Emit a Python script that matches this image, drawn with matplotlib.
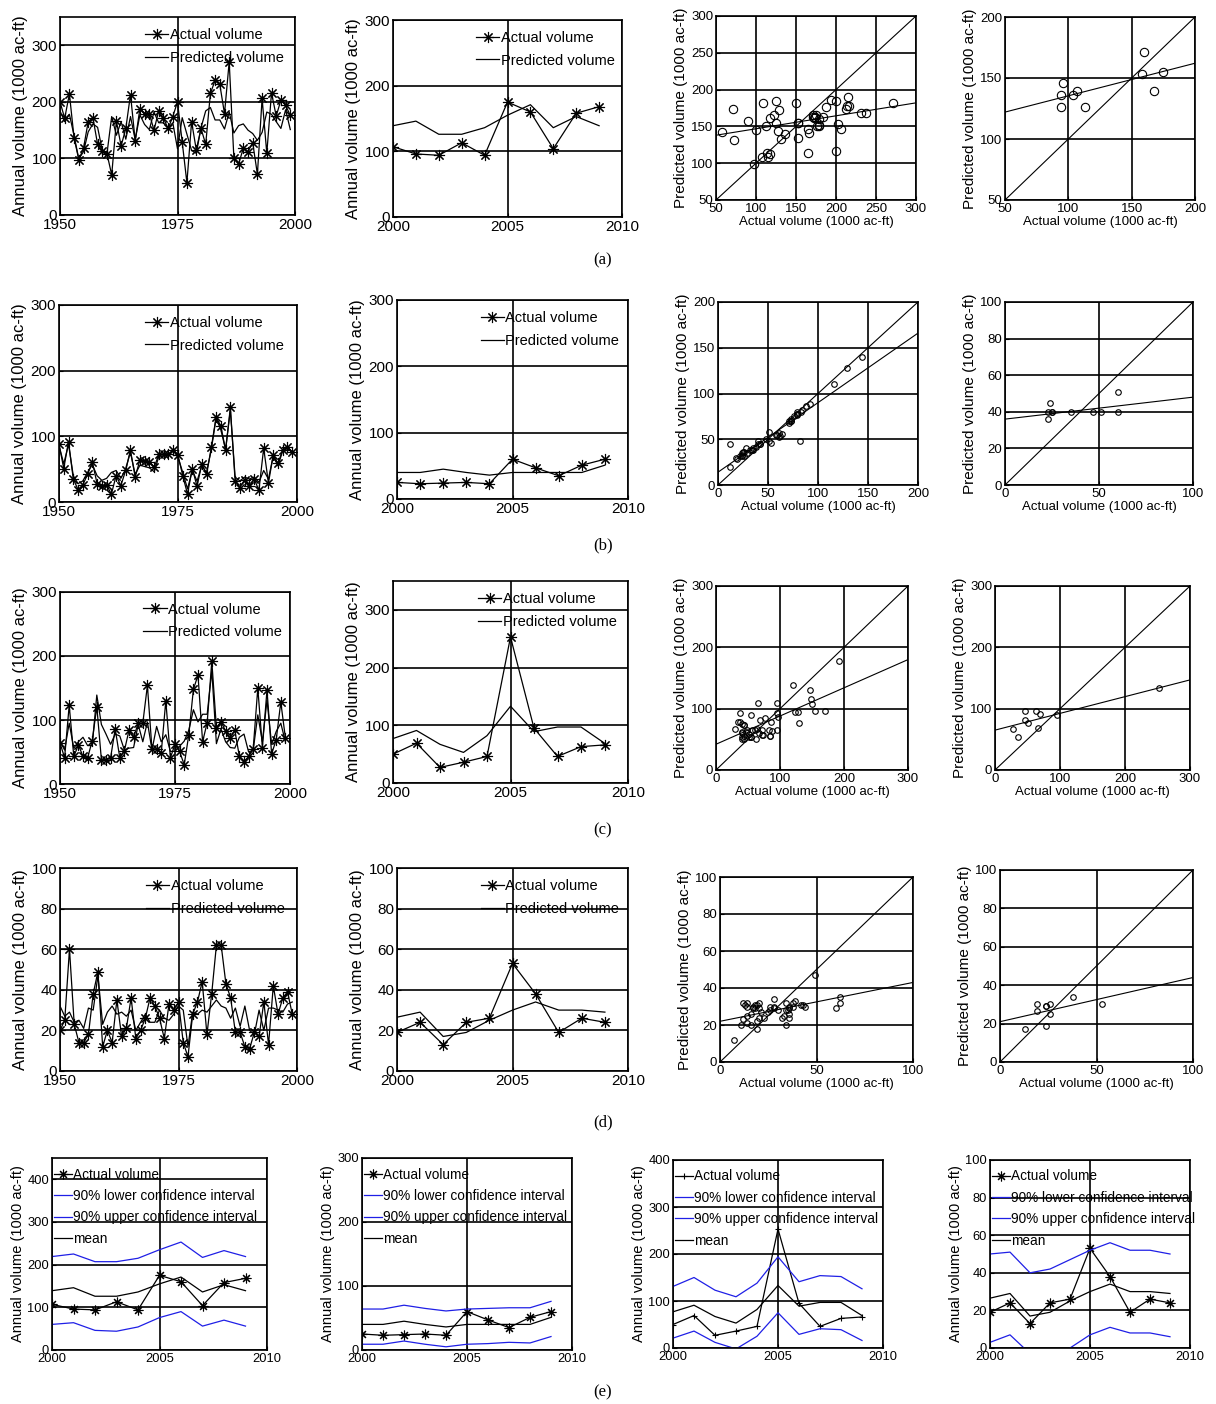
import numpy as np
import matplotlib
matplotlib.use("Agg")
import matplotlib.pyplot as plt
from matplotlib import font_manager

plt.rcParams['font.family'] = ['Liberation Sans', 'DejaVu Sans']

# --- data ---
years_hist = np.arange(1950, 2000)
years_rec = np.arange(2000, 2010)

a_hist_actual = [200, 171, 214, 136, 98, 118, 165, 172, 125, 114,
                 108, 71, 166, 122, 153, 213, 131, 188, 179, 179,
                 150, 184, 171, 153, 174, 200, 129, 57, 165, 115,
                 153, 125, 215, 238, 231, 179, 271, 100, 90, 118,
                 112, 128, 72, 206, 109, 216, 175, 203, 194, 176]
a_hist_pred = [184, 165, 178, 140, 99, 112, 147, 161, 155, 114,
               109, 174, 141, 165, 134, 174, 133, 177, 160, 151,
               182, 163, 163, 154, 163, 117, 172, 143, 114, 109,
               154, 184, 190, 168, 168, 152, 182, 145, 158, 161,
               150, 144, 132, 146, 182, 178, 165, 153, 186, 151]

b_hist_actual = [88, 51, 92, 35, 19, 26, 42, 61, 28, 24,
                 26, 12, 40, 25, 48, 79, 38, 64, 62, 61,
                 53, 73, 73, 73, 79, 71, 40, 12, 51, 24,
                 58, 42, 83, 129, 116, 79, 144, 32, 22, 34,
                 24, 35, 18, 82, 29, 71, 59, 79, 84, 76]
b_hist_pred = [86, 58, 88, 40, 28, 32, 45, 57, 40, 33,
               36, 45, 48, 36, 50, 76, 42, 56, 54, 52,
               46, 70, 70, 72, 78, 68, 45, 20, 48, 32,
               55, 45, 80, 128, 110, 80, 140, 38, 32, 38,
               35, 38, 30, 48, 35, 70, 55, 78, 82, 75]

c_hist_actual = [64, 41, 123, 43, 61, 43, 41, 67, 121, 38,
                 38, 41, 86, 41, 52, 84, 73, 95, 95, 154,
                 54, 55, 48, 130, 41, 62, 51, 30, 77, 148,
                 170, 66, 96, 192, 88, 97, 83, 72, 84, 43,
                 35, 43, 55, 150, 57, 147, 47, 69, 128, 72]
c_hist_pred = [67, 53, 95, 56, 66, 73, 60, 60, 139, 93,
               78, 62, 78, 75, 53, 56, 57, 93, 66, 97,
               53, 90, 66, 77, 51, 51, 59, 67, 84, 116,
               97, 109, 109, 177, 63, 86, 66, 57, 56, 73,
               78, 50, 53, 108, 66, 131, 62, 82, 95, 66]

d_hist_actual = [20, 25, 60, 23, 14, 14, 18, 38, 49, 12,
                 20, 14, 35, 17, 21, 36, 16, 20, 26, 36,
                 32, 26, 16, 33, 30, 34, 14, 7, 28, 34,
                 44, 18, 38, 62, 62, 43, 36, 19, 19, 12,
                 11, 19, 17, 34, 13, 42, 28, 36, 39, 28]
d_hist_pred = [32, 27, 29, 24, 25, 21, 31, 30, 47, 23,
               29, 32, 28, 29, 27, 30, 20, 24, 28, 24,
               24, 30, 26, 25, 28, 32, 30, 12, 29, 28,
               30, 29, 32, 35, 32, 31, 26, 31, 22, 32,
               20, 18, 30, 20, 31, 31, 30, 29, 33, 34]

a_rec_actual = [107, 96, 94, 113, 94, 175, 160, 104, 158, 168]
a_rec_pred = [139, 146, 126, 126, 136, 155, 171, 136, 153, 139]
b_rec_actual = [25, 23, 24, 25, 23, 60, 47, 35, 51, 60]
b_rec_pred = [40, 40, 45, 40, 36, 40, 40, 40, 40, 51]
c_rec_actual = [50, 69, 27, 36, 46, 253, 95, 46, 63, 66]
c_rec_pred = [77, 91, 67, 53, 82, 133, 89, 97, 97, 69]
d_rec_actual = [19, 24, 13, 24, 26, 53, 38, 19, 26, 24]
d_rec_pred = [26.5, 29, 17, 19, 25, 30, 34, 30, 30, 29]

a_lower = [60, 64, 46, 44, 54, 76, 90, 56, 70, 56]
a_upper = [219, 225, 207, 207, 215, 235, 253, 217, 233, 219]
b_lower = [9, 9, 14, 9, 5, 9, 10, 12, 11, 21]
b_upper = [64, 64, 70, 65, 61, 64, 65, 66, 66, 76]
c_lower = [21, 36, 12, -2, 25, 75, 29, 41, 39, 16]
c_upper = [131, 150, 123, 109, 138, 194, 141, 154, 152, 126]
d_lower = [3, 7, -3, -5, 0, 7, 11, 8, 8, 6]
d_upper = [50, 51, 40, 42, 47, 52, 56, 52, 52, 50]

# regression lines (intercept, slope)
fit_a_hist = (129.2, 0.176)
fit_a_rec = (108.7, 0.267)
fit_b_hist = (14, 0.76)
fit_b_rec = (36, 0.12)
fit_c_hist = (42, 0.46)
fit_c_rec = (65, 0.273)
fit_d_hist = (22, 0.21)
fit_d_rec = (21, 0.23)

# --- layout helpers ---
W, H = 1216, 1404
fig = plt.figure(figsize=(W / 100, H / 100), dpi=100)


def box(l, t, r, b):
    return [l / W, 1 - b / H, (r - l) / W, (b - t) / H]


ASTER = (8, 2, 0)


def style_axes(ax, tick_size, family=None):
    ax.grid(True, color='k', ls='-', lw=1.2)
    ax.set_axisbelow(True)
    for s in ax.spines.values():
        s.set_linewidth(1.2)
    ax.tick_params(direction='in', length=3, labelsize=tick_size, pad=2)
    if family is not None:
        for lab in ax.get_xticklabels() + ax.get_yticklabels():
            lab.set_family(family)


def series_panel(rect, years, actual, pred, xlim, xticks, ylim, yticks):
    ax = fig.add_axes(box(*rect))
    ax.plot(years, actual, '-', color='k', lw=0.9, marker=ASTER, ms=8,
            mew=0.8, label='Actual volume')
    ax.plot(years, pred, '-', color='k', lw=0.9, label='Predicted volume')
    ax.set_xlim(xlim)
    ax.set_ylim(ylim)
    ax.set_xticks(xticks)
    ax.set_yticks(yticks)
    style_axes(ax, 11)
    ax.set_ylabel('Annual volume (1000 ac-ft)', fontsize=12, labelpad=3)
    ax.legend(loc='upper left', bbox_to_anchor=(0.362, 0.945), frameon=False,
              fontsize=10.5, handlelength=1.6, handletextpad=0.1,
              borderpad=0, borderaxespad=0, labelspacing=0.6)
    return ax


def scatter_panel(rect, actual, pred, lim, xticks, yticks, fit, ms):
    ax = fig.add_axes(box(*rect))
    ax.plot(actual, pred, 'o', mfc='none', mec='k', ms=ms, mew=0.8)
    ax.plot(lim, lim, 'k-', lw=0.8)
    xs = np.array(lim, dtype=float)
    ax.plot(xs, fit[0] + fit[1] * xs, 'k-', lw=0.8)
    ax.set_xlim(lim)
    ax.set_ylim(lim)
    ax.set_xticks(xticks)
    ax.set_yticks(yticks)
    style_axes(ax, 9.5)
    ax.set_xlabel('Actual volume (1000 ac-ft)', fontsize=9.5, labelpad=1)
    ax.set_ylabel('Predicted volume (1000 ac-ft)', fontsize=11, labelpad=2)
    return ax


names = {f.name for f in font_manager.fontManager.ttflist}
if 'Liberation Sans Narrow' in names:
    e_family, e_size = 'Liberation Sans Narrow', 11.5
else:
    e_family, e_size = 'Liberation Sans', 9.8
e_spacing = max((21 - e_size * 1.389) / (e_size * 1.389), 0.2)


def ci_panel(rect, years, actual, lower, upper, mean, ylim, yticks, marker, ms):
    ax = fig.add_axes(box(*rect))
    ax.plot(years, actual, '-', color='k', lw=0.9, marker=marker, ms=ms,
            mew=0.8, label='Actual volume')
    ax.plot(years, lower, '-', color='#1f1fe6', lw=0.9,
            label='90% lower confidence interval')
    ax.plot(years, upper, '-', color='#1f1fe6', lw=0.9,
            label='90% upper confidence interval')
    ax.plot(years, mean, '-', color='k', lw=0.9, label='mean')
    ax.set_xlim(2000, 2010)
    ax.set_ylim(ylim)
    ax.set_xticks([2000, 2005, 2010])
    ax.set_yticks(yticks)
    style_axes(ax, e_size * 0.95, e_family)
    ax.set_ylabel('Annual volume (1000 ac-ft)', fontsize=10.5, labelpad=2)
    ax.legend(loc='upper left', bbox_to_anchor=(0.01, 0.95), frameon=False,
              prop={'family': e_family, 'size': e_size}, handlelength=1.3,
              handletextpad=0.1, borderpad=0, borderaxespad=0,
              labelspacing=e_spacing)
    return ax


# --- row (a) ---
series_panel((60, 17, 295, 215), years_hist, a_hist_actual, a_hist_pred,
             (1950, 2000), [1950, 1975, 2000], (0, 350), [0, 100, 200, 300])
series_panel((393, 20, 622, 217), years_rec, a_rec_actual, a_rec_pred,
             (2000, 2010), [2000, 2005, 2010], (0, 300), [0, 100, 200, 300])
scatter_panel((716, 16, 916, 200), a_hist_actual, a_hist_pred, (50, 300),
              [50, 100, 150, 200, 250, 300], [50, 100, 150, 200, 250, 300],
              fit_a_hist, 6)
scatter_panel((1005, 17, 1195, 200), a_rec_actual, a_rec_pred, (50, 200),
              [50, 100, 150, 200], [50, 100, 150, 200], fit_a_rec, 6)

# --- row (b) ---
series_panel((59, 305, 297, 502), years_hist, b_hist_actual, b_hist_pred,
             (1950, 2000), [1950, 1975, 2000], (0, 300), [0, 100, 200, 300])
series_panel((397, 300, 628, 499), years_rec, b_rec_actual, b_rec_pred,
             (2000, 2010), [2000, 2005, 2010], (0, 300), [0, 100, 200, 300])
scatter_panel((718, 302, 918, 485), b_hist_actual, b_hist_pred, (0, 200),
              [0, 50, 100, 150, 200], [0, 50, 100, 150, 200], fit_b_hist, 4)
scatter_panel((1005, 302, 1193, 485), b_rec_actual, b_rec_pred, (0, 100),
              [0, 50, 100], [0, 20, 40, 60, 80, 100], fit_b_rec, 4)

# --- row (c) ---
series_panel((60, 592, 290, 784), years_hist, c_hist_actual, c_hist_pred,
             (1950, 2000), [1950, 1975, 2000], (0, 300), [0, 100, 200, 300])
series_panel((393, 581, 628, 783), years_rec, c_rec_actual, c_rec_pred,
             (2000, 2010), [2000, 2005, 2010], (0, 350), [0, 100, 200, 300])
scatter_panel((716, 586, 908, 770), c_hist_actual, c_hist_pred, (0, 300),
              [0, 100, 200, 300], [0, 100, 200, 300], fit_c_hist, 4)
scatter_panel((995, 586, 1190, 770), c_rec_actual, c_rec_pred, (0, 300),
              [0, 100, 200, 300], [0, 100, 200, 300], fit_c_rec, 4)

# --- row (d) ---
series_panel((60, 868, 297, 1071), years_hist, d_hist_actual, d_hist_pred,
             (1950, 2000), [1950, 1975, 2000], (0, 100), [0, 20, 40, 60, 80, 100])
series_panel((397, 868, 628, 1071), years_rec, d_rec_actual, d_rec_pred,
             (2000, 2010), [2000, 2005, 2010], (0, 100), [0, 20, 40, 60, 80, 100])
scatter_panel((720, 877, 913, 1062), d_hist_actual, d_hist_pred, (0, 100),
              [0, 50, 100], [0, 20, 40, 60, 80, 100], fit_d_hist, 4)
scatter_panel((1000, 870, 1193, 1062), d_rec_actual, d_rec_pred, (0, 100),
              [0, 50, 100], [0, 20, 40, 60, 80, 100], fit_d_rec, 4)

# --- row (e) ---
ci_panel((52, 1158, 267, 1350), years_rec, a_rec_actual, a_lower, a_upper,
         a_rec_pred, (0, 450), [0, 100, 200, 300, 400], ASTER, 7)
ci_panel((362, 1158, 572, 1350), years_rec, b_rec_actual, b_lower, b_upper,
         b_rec_pred, (0, 300), [0, 100, 200, 300], ASTER, 7)
ci_panel((673, 1160, 883, 1348), years_rec, c_rec_actual, c_lower, c_upper,
         c_rec_pred, (0, 400), [0, 100, 200, 300, 400], '+', 5)
ci_panel((990, 1160, 1190, 1348), years_rec, d_rec_actual, d_lower, d_upper,
         d_rec_pred, (0, 100), [0, 20, 40, 60, 80, 100], ASTER, 7)

# --- row captions ---
for lab, y in [('(a)', 260), ('(b)', 545), ('(c)', 830), ('(d)', 1122), ('(e)', 1392)]:
    fig.text(603 / W, 1 - y / H, lab, ha='center', va='center',
             fontsize=12, family=['Liberation Serif', 'DejaVu Serif'])

fig.savefig('out.png', dpi=100)
